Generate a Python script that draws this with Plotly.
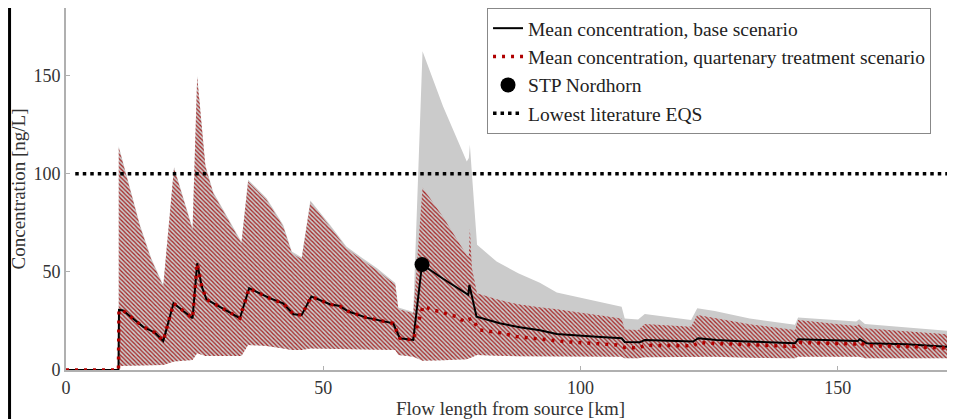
import plotly.graph_objects as go

# ---- data ----
band_x = [10.25, 11.8, 14.4, 16.6, 18.9, 21.0, 24.6, 25.5, 27.1, 28.6, 34.1, 35.4, 39.0, 42.2, 43.9,
          45.8, 47.5, 51.3, 54.5, 57.1, 60.4, 64.0, 64.6, 67.5, 69.3, 73.3, 77.9, 78.3, 78.5, 78.9,
          79.9, 83.7, 87.9, 92.1, 95.4, 108.0, 108.6, 111.2, 112.5, 121.5, 122.7, 126.1, 132.9,
          141.7, 142.3, 153.6, 154.2, 155.3, 172.8]
quart_upper = [113.4, 98.6, 73.0, 56.0, 42.5, 102.9, 71.4, 149.6, 103.7, 90.1, 64.6, 96.1, 86.7, 73.1, 59.5,
               56.5, 85.5, 73.1, 62.0, 57.0, 51.0, 43.4, 31.0, 28.9, 93.0, 78.0, 58.5, 57.8, 72.3, 52.0,
               39.1, 36.0, 33.5, 32.0, 31.0, 26.3, 20.7, 20.4, 23.5, 22.1, 28.0, 26.5, 23.3,
               20.4, 25.5, 22.4, 23.5, 21.3, 17.9]
base_upper = [114.0, 99.3, 73.8, 56.8, 43.3, 103.5, 72.3, 150.0, 104.4, 90.9, 65.4, 97.0, 87.5, 74.0, 60.4,
              57.4, 86.4, 74.0, 63.0, 58.0, 52.0, 44.4, 31.8, 29.5, 162.4, 134.3, 106.3, 108.0, 114.8, 100.0,
              63.8, 55.3, 49.3, 44.5, 39.5, 32.3, 26.3, 25.8, 28.6, 25.5, 31.5, 30.1, 26.3,
              23.0, 26.7, 24.7, 25.9, 23.5, 19.6]
band_lower = [2.0, 2.0, 2.2, 2.4, 2.6, 4.3, 5.1, 8.5, 7.1, 7.1, 7.1, 12.8, 12.2, 11.0, 10.2,
              10.2, 11.0, 11.0, 10.8, 10.6, 10.4, 10.2, 7.7, 6.8, 4.7, 5.0, 5.5, 6.0, 6.0, 6.5,
              7.6, 7.2, 7.0, 7.0, 6.8, 6.8, 6.0, 6.0, 6.5, 6.5, 6.8, 6.8, 6.2,
              6.0, 6.8, 6.8, 6.8, 6.0, 6.0]

base_x = [0, 10.2, 10.3, 11.1, 12.4, 15.0, 17.3, 18.9, 20.9, 24.6, 25.5, 26.4, 27.3, 33.8, 35.6,
          39.6, 42.2, 44.2, 45.8, 47.7, 51.3, 53.2, 54.9, 58.4, 63.6, 64.9, 67.5, 69.2, 73.3, 78.2,
          78.4, 79.8, 84.3, 88.2, 92.1, 95.4, 103.1, 108.0, 108.6, 111.5, 112.5, 121.9, 122.9,
          126.4, 131.0, 141.7, 142.3, 153.9, 154.3, 155.6, 163.4, 172.8]
base_mean = [0, 0, 30.6, 30.3, 27.5, 22.0, 19.0, 14.8, 34.0, 26.4, 54.4, 42.5, 36.0, 26.4, 41.7,
             36.6, 34.0, 28.4, 28.0, 37.4, 33.5, 32.6, 29.8, 26.7, 23.8, 16.2, 15.3, 53.8, 46.5, 38.3,
             43.4, 27.2, 23.8, 21.8, 20.3, 18.4, 17.0, 16.2, 14.3, 14.1, 15.3, 14.5, 16.2,
             15.3, 14.7, 13.6, 15.7, 14.8, 15.7, 13.6, 13.1, 11.6]

quart_x = [0, 10.2, 10.3, 11.1, 12.4, 15.0, 17.3, 18.9, 20.9, 24.6, 25.5, 26.4, 27.3, 33.8, 35.6,
           39.6, 42.2, 44.2, 45.8, 47.7, 51.3, 53.2, 54.9, 58.4, 63.6, 64.9, 67.5, 69.4, 71.4, 73.6,
           75.9, 77.5, 78.8, 80.4, 84.3, 87.6, 97.3, 107.0, 108.6, 111.5, 112.5, 121.9, 122.9,
           126.4, 132.0, 141.7, 142.3, 153.9, 154.3, 155.6, 163.4, 172.8]
quart_mean = [0, 0, 30.6, 30.3, 27.5, 22.0, 19.0, 14.8, 34.0, 26.4, 54.4, 42.5, 36.0, 26.4, 41.7,
              36.6, 34.0, 28.4, 28.0, 37.4, 33.5, 32.6, 29.8, 26.7, 23.8, 16.2, 15.3, 32.5, 30.6, 28.9,
              27.2, 24.6, 26.3, 20.4, 19.0, 17.0, 14.4, 12.8, 11.5, 11.3, 12.6, 12.3, 14.0,
              13.5, 12.8, 12.0, 14.1, 13.2, 14.0, 12.4, 12.0, 11.0]

stp_x = [69.2]
stp_y = [53.8]

eqs_x = [1.8, 172.8]
eqs_y = [100, 100]

x_ticks = [0, 50, 100, 150]
y_ticks = [0, 50, 100, 150]

FONT = "Liberation Serif"
TXT = "#333333"

fig = go.Figure()

# gray band (base scenario range)
fig.add_trace(go.Scatter(
    x=band_x + band_x[::-1], y=base_upper + band_lower[::-1],
    fill="toself", fillcolor="#cbcbcb", mode="lines", line=dict(width=0),
    showlegend=False, hoverinfo="skip"))

# red hatched band (quartenary treatment scenario range)
fig.add_trace(go.Scatter(
    x=band_x + band_x[::-1], y=quart_upper + band_lower[::-1],
    fill="toself", fillcolor="rgba(0,0,0,0)", mode="lines", line=dict(width=0),
    fillpattern=dict(shape="\\", fgcolor="#a52424", size=3, solidity=0.42),
    showlegend=False, hoverinfo="skip"))

fig.add_trace(go.Scatter(
    x=base_x, y=base_mean, mode="lines", line=dict(color="black", width=2),
    name="Mean concentration, base scenario"))

fig.add_trace(go.Scatter(
    x=quart_x, y=quart_mean, mode="lines",
    line=dict(color="#b00000", width=3.5, dash="3px,6px"),
    name="Mean concentration, quartenary treatment scenario"))

fig.add_trace(go.Scatter(
    x=stp_x, y=stp_y, mode="markers", marker=dict(color="black", size=15),
    name="STP Nordhorn"))

fig.add_trace(go.Scatter(
    x=eqs_x, y=eqs_y, mode="lines",
    line=dict(color="black", width=3.5, dash="3.5px,4px"),
    name="Lowest literature EQS"))

# The page body has an 8px margin, so the figure is 8px smaller and margins shifted.
fig.update_layout(
    template="none",
    width=947, height=411,
    margin=dict(l=58, r=0, t=0, b=49, autoexpand=False),
    paper_bgcolor="white", plot_bgcolor="white",
    font=dict(family=FONT, size=18, color=TXT),
    showlegend=True,
    legend=dict(x=0.4736, y=1.0, xanchor="left", yanchor="top",
                bgcolor="white", bordercolor="#888888", borderwidth=1,
                font=dict(family=FONT, size=19.5, color="#222222"),
                itemwidth=30, tracegroupgap=0),
    xaxis=dict(range=[0, 172.8], tickvals=x_ticks, ticktext=[str(v) for v in x_ticks],
               showgrid=False, zeroline=False, showline=True, linecolor="#b0b0b0", linewidth=2,
               ticks="inside", ticklen=4, tickcolor="#b0b0b0", automargin=False,
               tickfont=dict(family=FONT, size=18, color=TXT),
               title=dict(text="Flow length from source [km]", standoff=5,
                          font=dict(family=FONT, size=19, color=TXT))),
    yaxis=dict(range=[0, 184.5], tickvals=y_ticks, ticktext=[str(v) for v in y_ticks],
               showgrid=False, zeroline=False, showline=True, linecolor="#b0b0b0", linewidth=2,
               ticks="inside", ticklen=4, tickcolor="#b0b0b0", automargin=False,
               tickfont=dict(family=FONT, size=18, color=TXT),
               title=dict(text="Concentration [ng/L]", standoff=4,
                          font=dict(family=FONT, size=19, color=TXT))),
    shapes=[dict(type="line", xref="paper", yref="paper", x0=-0.0635, x1=-0.0635, y0=-0.2, y1=1.1,
                 line=dict(color="black", width=3))],
)

fig.write_html("out.html")
